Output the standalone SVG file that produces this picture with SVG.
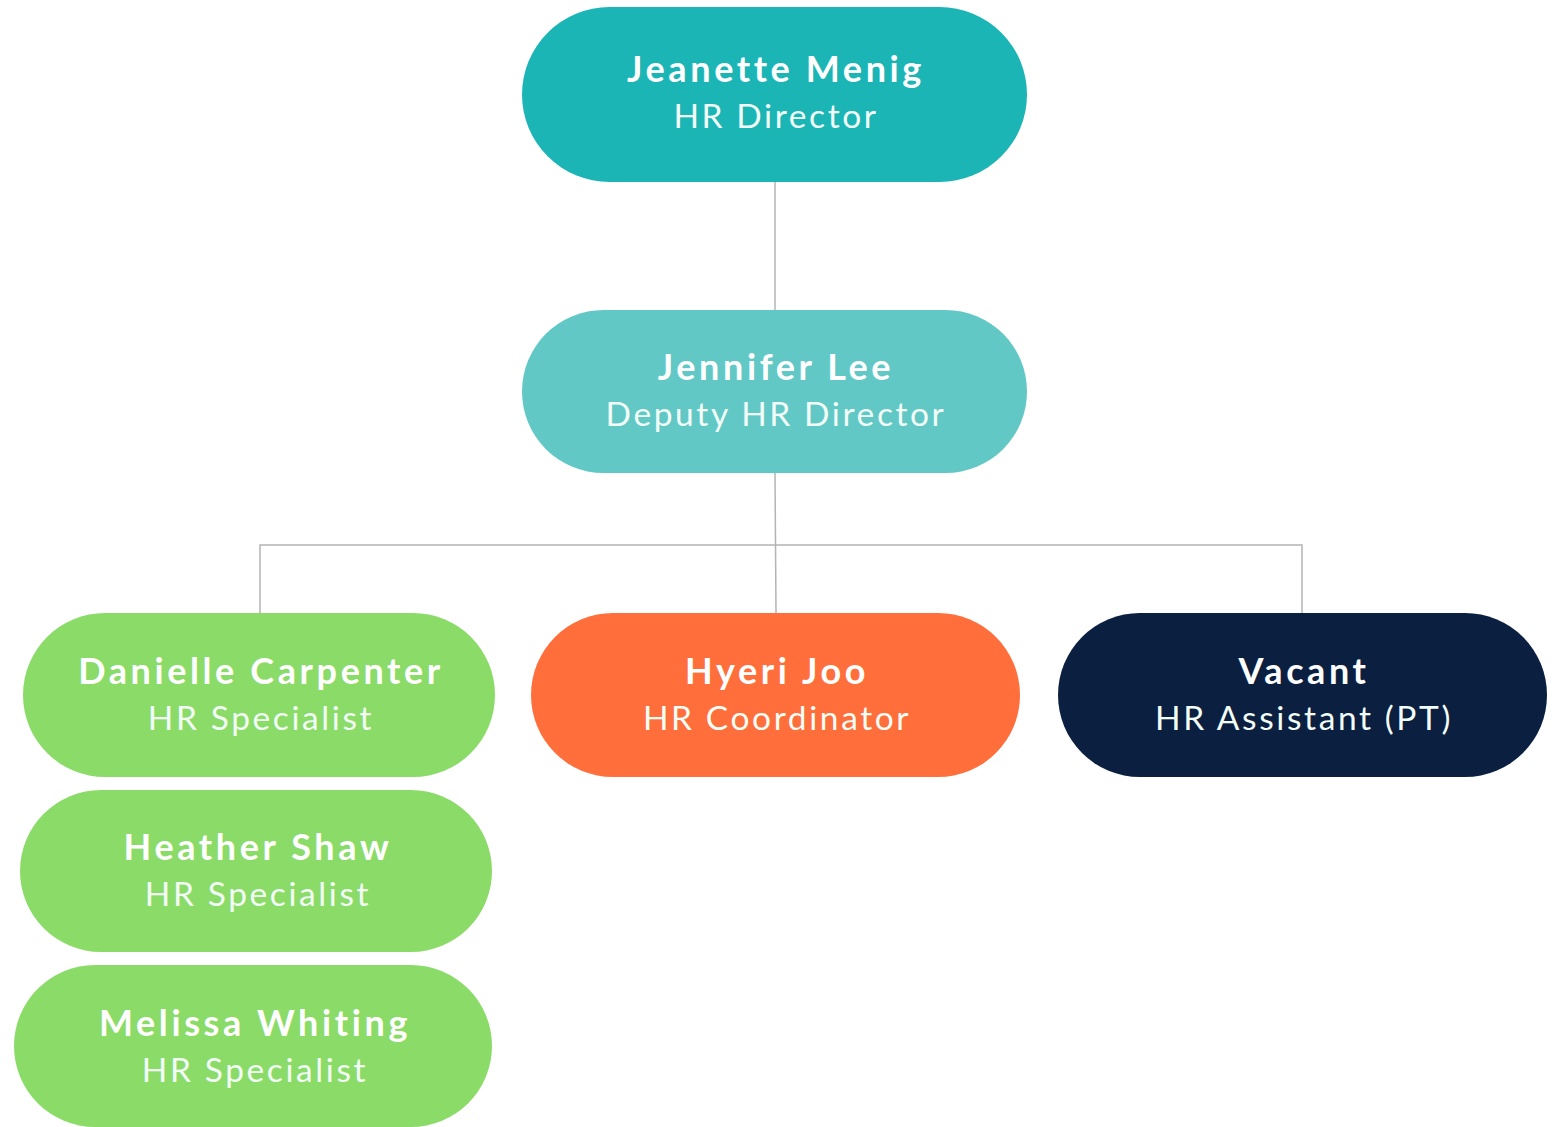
<svg xmlns="http://www.w3.org/2000/svg" width="1557" height="1127" viewBox="0 0 1557 1127">
  <style>
    .name { font-family: Lato, "Open Sans", "Liberation Sans", sans-serif; font-weight: 700; font-size: 36px; letter-spacing: 3.6px; fill: #ffffff; text-anchor: middle; }
    .title { font-family: Lato, "Open Sans", "Liberation Sans", sans-serif; font-weight: 400; font-size: 33.5px; letter-spacing: 2.6px; fill: #f2fdf6; text-anchor: middle; }
    .link { stroke: #b4b4b4; stroke-width: 1.5; fill: none; }
  </style>
  <rect width="1557" height="1127" fill="#ffffff"/>

  <!-- reporting lines -->
  <g id="connectors">
    <line class="link" x1="775" y1="182" x2="775" y2="310"/>
    <line class="link" x1="775" y1="473" x2="776" y2="613"/>
    <polyline class="link" points="260,613 260,545 1302,545 1302,613"/>
  </g>

  <g id="jeanette-menig">
    <rect x="522" y="7" width="505" height="175" rx="87.5" fill="#1bb5b6"/>
    <text class="name" x="776" y="82">Jeanette Menig</text>
    <text class="title" x="776" y="128">HR Director</text>
  </g>

  <g id="jennifer-lee">
    <rect x="522" y="310" width="505" height="163" rx="81.5" fill="#62c8c6"/>
    <text class="name" x="776" y="380">Jennifer Lee</text>
    <text class="title" x="776" y="426">Deputy HR Director</text>
  </g>

  <g id="danielle-carpenter">
    <rect x="23" y="613" width="472" height="164" rx="82" fill="#8bdb69"/>
    <text class="name" x="261" y="684">Danielle Carpenter</text>
    <text class="title" x="261" y="730">HR Specialist</text>
  </g>

  <g id="hyeri-joo">
    <rect x="531" y="613" width="489" height="164" rx="82" fill="#ff6e3b"/>
    <text class="name" x="777" y="684">Hyeri Joo</text>
    <text class="title" x="777" y="730">HR Coordinator</text>
  </g>

  <g id="vacant">
    <rect x="1058" y="613" width="489" height="164" rx="82" fill="#0b1f40"/>
    <text class="name" x="1304" y="684">Vacant</text>
    <text class="title" x="1304" y="730">HR Assistant (PT)</text>
  </g>

  <g id="heather-shaw">
    <rect x="20" y="790" width="472" height="162" rx="81" fill="#8bdb69"/>
    <text class="name" x="258" y="860">Heather Shaw</text>
    <text class="title" x="258" y="906">HR Specialist</text>
  </g>

  <g id="melissa-whiting">
    <rect x="14" y="965" width="478" height="162" rx="81" fill="#8bdb69"/>
    <text class="name" x="255" y="1036">Melissa Whiting</text>
    <text class="title" x="255" y="1082">HR Specialist</text>
  </g>
</svg>
